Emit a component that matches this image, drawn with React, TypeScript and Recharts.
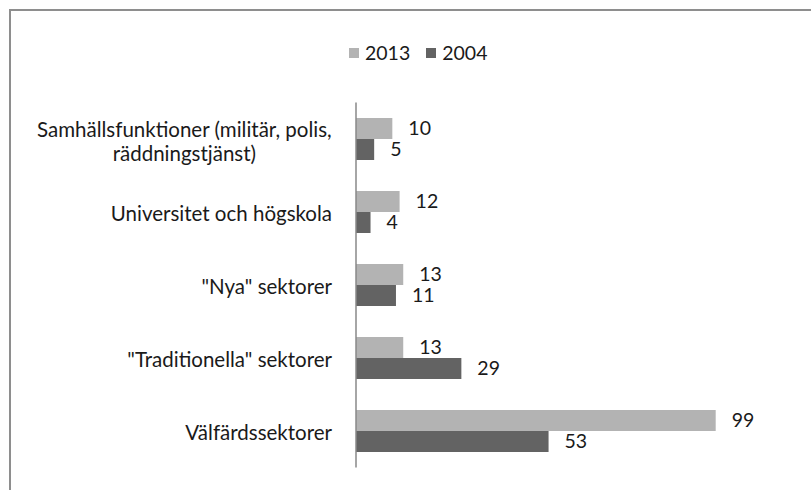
import { BarChart, Bar, XAxis, YAxis, LabelList } from 'recharts';

const CATEGORIES = [
  'Samhällsfunktioner (militär, polis,\nräddningstjänst)',
  'Universitet och högskola',
  '"Nya" sektorer',
  '"Traditionella" sektorer',
  'Välfärdssektorer',
];
const VALUES_2013 = [10, 12, 13, 13, 99];
const VALUES_2004 = [5, 4, 11, 29, 53];
const SERIES_NAMES = ['2013', '2004'];

const LIGHT = '#b3b3b3';
const DARK = '#636363';
const FONT = 'Lato, "Open Sans", sans-serif';
const TEXT = '#1a1a1a';
const TICK_SIZE = 20.5;

const data = CATEGORIES.map((name, i) => ({
  name,
  v2013: VALUES_2013[i],
  v2004: VALUES_2004[i],
}));

let measureCtx: CanvasRenderingContext2D | null = null;
function textWidth(s: string, size: number) {
  if (!measureCtx) measureCtx = document.createElement('canvas').getContext('2d');
  if (!measureCtx) return s.length * size * 0.5;
  measureCtx.font = `${size}px ${FONT}`;
  return measureCtx.measureText(s).width;
}

function CategoryTick({ x, y, payload }: any) {
  const lines = String(payload.value).split('\n');
  if (lines.length === 1) {
    return (
      <text x={x} y={y + 9} textAnchor="end" fontSize={TICK_SIZE} fontFamily={FONT} fill={TEXT}>
        {lines[0]}
      </text>
    );
  }
  const w = textWidth(lines[0], TICK_SIZE);
  const mid = x - w / 2;
  return (
    <g>
      <text x={mid} y={y - 2} textAnchor="middle" fontSize={TICK_SIZE} fontFamily={FONT} fill={TEXT}>
        {lines[0]}
      </text>
      <text x={mid} y={y + 22} textAnchor="middle" fontSize={TICK_SIZE} fontFamily={FONT} fill={TEXT}>
        {lines[1]}
      </text>
    </g>
  );
}

export default function App() {
  const labelStyle = { fill: TEXT, fontSize: 19.5, fontFamily: FONT };
  return (
    <div
      style={{
        position: 'absolute',
        left: 0,
        top: 0,
        width: 811,
        height: 490,
        overflow: 'hidden',
        background: '#fff',
      }}
    >
      <div
        style={{
          position: 'absolute',
          left: 9,
          top: 9,
          width: 900,
          height: 600,
          borderTop: '2px solid #8e8e8e',
          borderLeft: '2px solid #8e8e8e',
        }}
      />
      <div
        style={{
          position: 'absolute',
          left: 349,
          top: 41,
          display: 'flex',
          alignItems: 'center',
          fontFamily: FONT,
          fontSize: 19.5,
          color: TEXT,
        }}
      >
        {SERIES_NAMES.map((s, i) => (
          <div key={s} style={{ display: 'flex', alignItems: 'center', marginRight: 16 }}>
            <span
              style={{
                width: 10,
                height: 10,
                background: i === 0 ? LIGHT : DARK,
                display: 'inline-block',
                marginRight: 6,
              }}
            />
            <span>{s}</span>
          </div>
        ))}
      </div>
      <div style={{ position: 'absolute', left: 0, top: 0 }}>
        <BarChart
          width={811}
          height={490}
          data={data}
          layout="vertical"
          margin={{ top: 102.5, right: 19, bottom: 22.5, left: 0 }}
          barCategoryGap={15.5}
          barGap={0}
        >
          <XAxis type="number" domain={[0, 120]} hide />
          <YAxis
            type="category"
            dataKey="name"
            width={356}
            axisLine={{ stroke: '#888', strokeWidth: 1.5 }}
            tickLine={false}
            tickSize={0}
            tickMargin={24}
            tick={<CategoryTick />}
            interval={0}
          />
          <Bar dataKey="v2013" fill={LIGHT} isAnimationActive={false}>
            <LabelList dataKey="v2013" position="right" offset={16} style={labelStyle} />
          </Bar>
          <Bar dataKey="v2004" fill={DARK} isAnimationActive={false}>
            <LabelList dataKey="v2004" position="right" offset={16} style={labelStyle} />
          </Bar>
        </BarChart>
      </div>
    </div>
  );
}
